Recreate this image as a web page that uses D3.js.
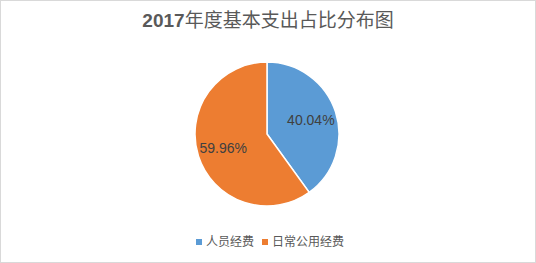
<!DOCTYPE html>
<html>
<head>
<meta charset="utf-8">
<script src="https://cdn.jsdelivr.net/npm/d3@7/dist/d3.min.js"></script>
<style>
  body { margin: 0; background: #fff; }
  text { font-family: "Liberation Sans", Arial, "Noto Sans CJK SC", sans-serif; }
</style>
</head>
<body>
<svg width="536" height="263"></svg>
<script>
var categories = ['人员经费', '日常公用经费'];
var shares = [40.04, 59.96];
var labels = ['40.04%', '59.96%'];
var colors = ['#5b9bd5', '#ed7d31'];

var svg = d3.select('svg');

svg.append('rect')
    .attr('x', 0.5).attr('y', 0.5)
    .attr('width', 535).attr('height', 262)
    .attr('fill', '#fff')
    .attr('stroke', '#d9d9d9');

// title
var title = svg.append('text')
    .attr('x', 268)
    .attr('y', 27)
    .attr('text-anchor', 'middle')
    .attr('font-size', 19)
    .attr('fill', '#595959');
title.append('tspan').attr('font-weight', 'bold').text('2017');
title.append('tspan').text('年度基本支出占比分布图');

var r = 72;
var g = svg.append('g').attr('transform', 'translate(267,134)');

var pie = d3.pie().sort(null).value(function(d) { return d; });
var arc = d3.arc().innerRadius(0).outerRadius(r);
var labelArc = d3.arc().innerRadius(r * 0.64).outerRadius(r * 0.64);

var arcs = pie(shares);

g.selectAll('path')
    .data(arcs)
    .enter()
    .append('path')
    .attr('d', arc)
    .attr('fill', function(d, i) { return colors[i]; })
    .attr('stroke', '#fff')
    .attr('stroke-width', 1.5);

g.selectAll('.lbl')
    .data(arcs)
    .enter()
    .append('text')
    .attr('class', 'lbl')
    .attr('transform', function(d) { return 'translate(' + labelArc.centroid(d) + ')'; })
    .attr('dy', '0.35em')
    .attr('text-anchor', 'middle')
    .attr('font-size', 14)
    .attr('fill', '#404040')
    .text(function(d, i) { return labels[i]; });

// legend
var legendX = [196, 262];
var leg = svg.selectAll('.leg')
    .data(categories)
    .enter()
    .append('g')
    .attr('class', 'leg')
    .attr('transform', function(d, i) { return 'translate(' + legendX[i] + ',242)'; });

leg.append('rect')
    .attr('x', 0).attr('y', -3)
    .attr('width', 6).attr('height', 6)
    .attr('fill', function(d, i) { return colors[i]; });

leg.append('text')
    .attr('x', 10)
    .attr('dy', '0.35em')
    .attr('font-size', 12)
    .attr('fill', '#595959')
    .text(function(d) { return d; });
</script>
</body>
</html>
